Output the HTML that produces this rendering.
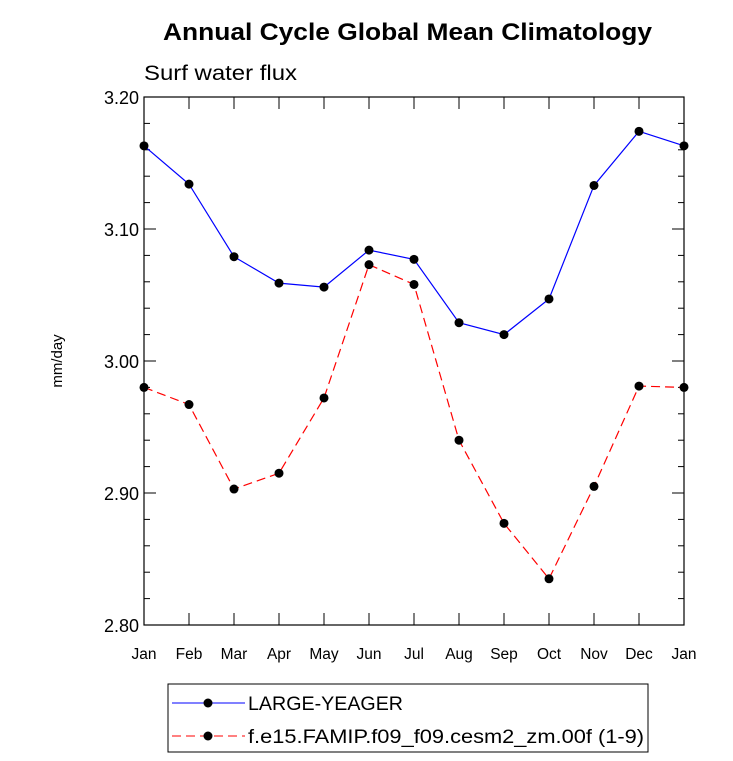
<!DOCTYPE html>
<html><head><meta charset="utf-8"><style>
body{margin:0;background:#fff;}
svg{display:block;font-family:"Liberation Sans",sans-serif;}
</style></head><body>
<svg id="c" width="733" height="761">
<text x="163" y="40" font-size="24" font-weight="bold" textLength="489" lengthAdjust="spacingAndGlyphs">Annual Cycle Global Mean Climatology</text>
<text x="144" y="80" font-size="21" textLength="153" lengthAdjust="spacingAndGlyphs">Surf water flux</text>
<text transform="translate(62,361) rotate(-90)" text-anchor="middle" font-size="15">mm/day</text>
<g id="ax"></g>
<g id="marks"></g>
<rect x="168" y="684" width="480" height="68" fill="none" stroke="#000"/>
<line x1="172" y1="703" x2="245" y2="703" stroke="#0000ff"/>
<circle cx="208" cy="703" r="4.5"/>
<text x="248" y="710" font-size="19" textLength="155" lengthAdjust="spacingAndGlyphs">LARGE-YEAGER</text>
<line x1="172" y1="736" x2="245" y2="736" stroke="#ff0000" stroke-dasharray="9,5"/>
<circle cx="208" cy="736" r="4.5"/>
<text x="248" y="743" font-size="19" textLength="396" lengthAdjust="spacingAndGlyphs">f.e15.FAMIP.f09_f09.cesm2_zm.00f (1-9)</text>
</svg>
<script>
const months=["Jan","Feb","Mar","Apr","May","Jun","Jul","Aug","Sep","Oct","Nov","Dec","Jan"];
const yTicks=[2.80,2.90,3.00,3.10,3.20];
const yLabels=["2.80","2.90","3.00","3.10","3.20"];
const largeYeager=[3.163,3.134,3.079,3.059,3.056,3.084,3.077,3.029,3.020,3.047,3.133,3.174,3.163];
const famip=[2.980,2.967,2.903,2.915,2.972,3.073,3.058,2.940,2.877,2.835,2.905,2.981,2.980];
const L=144,R=684,T=97,B=625,ymin=2.8,ymax=3.2;
const xs=i=>L+(R-L)*i/(months.length-1);
const ys=v=>B-(v-ymin)/(ymax-ymin)*(B-T);
const NS="http://www.w3.org/2000/svg";
function mk(p,tag,a){const e=document.createElementNS(NS,tag);for(const k in a)e.setAttribute(k,a[k]);p.appendChild(e);return e;}
const ax=document.getElementById('ax'),mg=document.getElementById('marks');
const fr=mk(ax,'rect',{x:L,y:T,width:R-L,height:B-T,fill:'none',stroke:'#000','stroke-width':1.2});


months.forEach((m,i)=>{const x=xs(i);
 mk(ax,'line',{x1:x,y1:B,x2:x,y2:B-12,stroke:'#000'});
 mk(ax,'line',{x1:x,y1:T,x2:x,y2:T+12,stroke:'#000'});
 const t=mk(ax,'text',{x:x,y:B+34,'text-anchor':'middle','font-size':15.5});t.textContent=m;
 
 
});
for(let v=ymin;v<=ymax+1e-9;v+=0.02){const y=ys(v);const major=Math.abs(Math.round(v*10)-v*10)<1e-6;const w=major?12:6;
 mk(ax,'line',{x1:L,y1:y,x2:L+w,y2:y,stroke:'#000'});mk(ax,'line',{x1:R,y1:y,x2:R-w,y2:y,stroke:'#000'});}
yTicks.forEach((v,i)=>{const t=mk(ax,'text',{x:L-5,y:ys(v)+7,'text-anchor':'end','font-size':18});t.textContent=yLabels[i];
 
 });
function series(d,col,dash,name){
 const pl=mk(mg,'polyline',{points:d.map((v,i)=>xs(i)+','+ys(v)).join(' '),fill:'none',stroke:col,'stroke-width':1.2,'stroke-dasharray':dash});
 
 
 d.forEach((v,i)=>{const c=mk(mg,'circle',{cx:xs(i),cy:ys(v),r:4.5,fill:'#000'});
  
  });
}
series(largeYeager,'#0000ff','none','large-yeager');
series(famip,'#ff0000','9,5','famip');
</script>
</body></html>
